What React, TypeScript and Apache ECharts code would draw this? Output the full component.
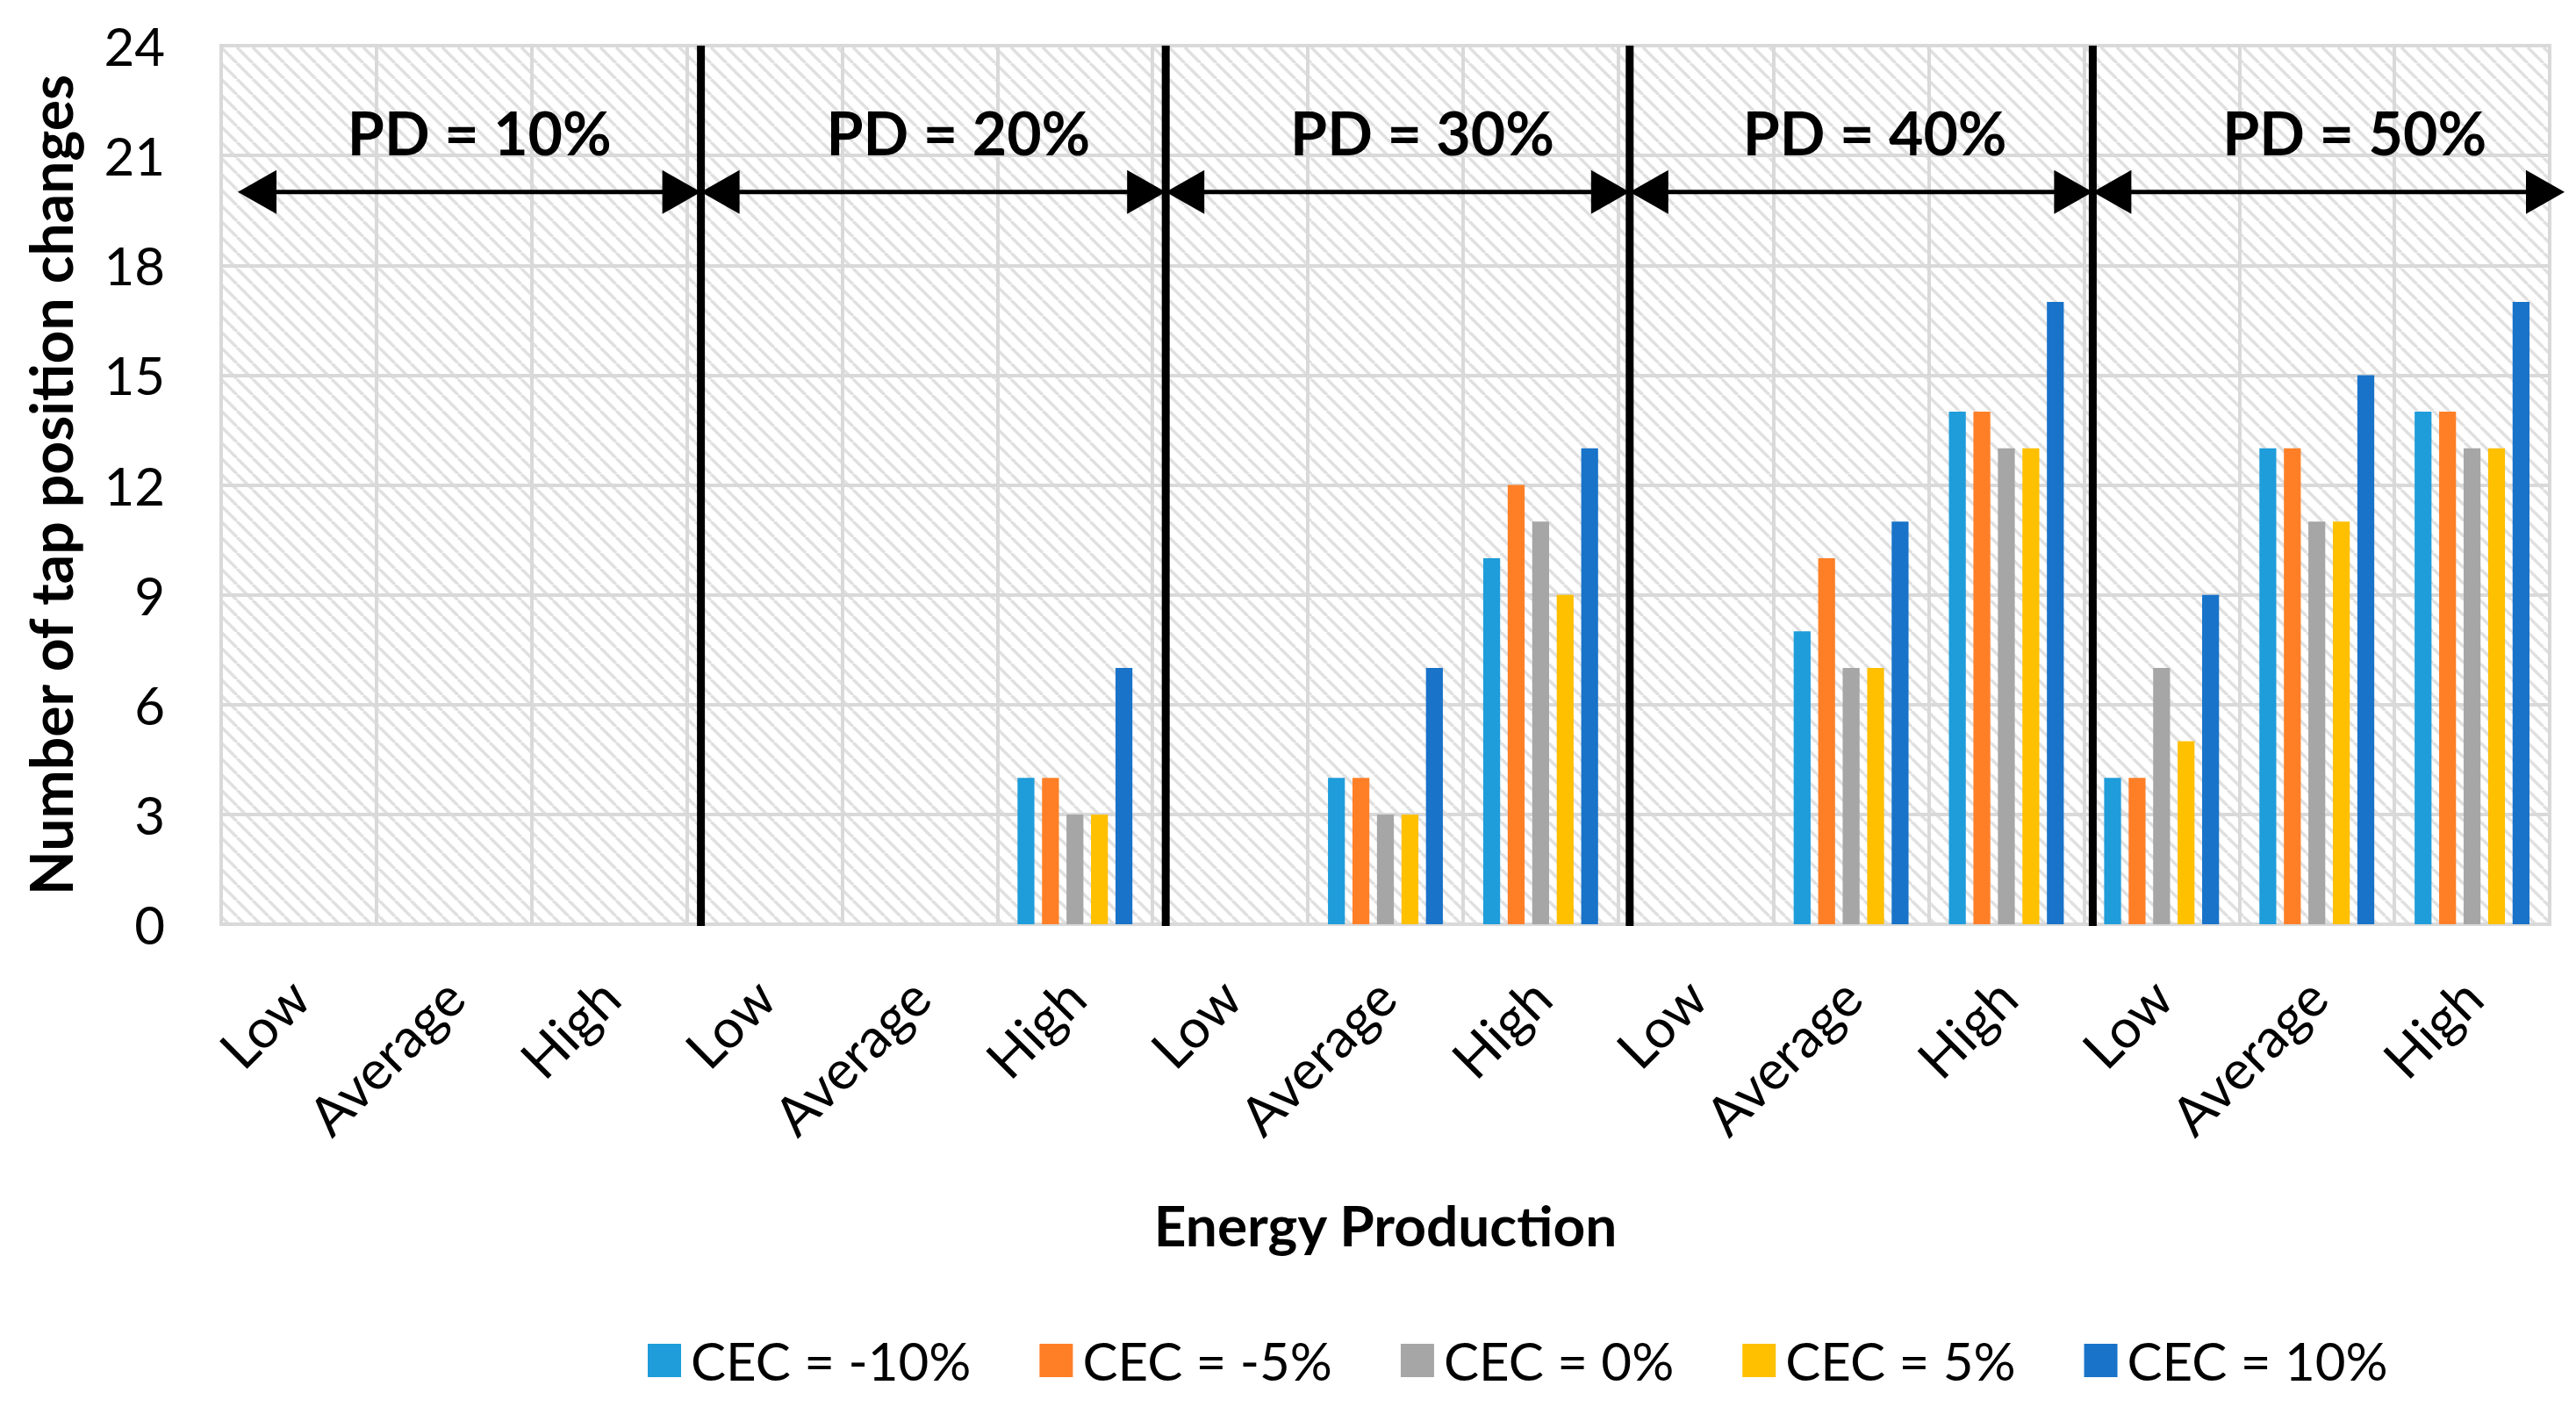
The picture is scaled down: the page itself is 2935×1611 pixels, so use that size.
import React, { useEffect, useRef } from "react";
import * as echarts from "echarts";

// ---- data ----
const groupLabels = ["PD = 10%", "PD = 20%", "PD = 30%", "PD = 40%", "PD = 50%"];
const levels = ["Low", "Average", "High"];
const categories = groupLabels.flatMap(() => levels);
const seriesNames = ["CEC = -10%", "CEC = -5%", "CEC = 0%", "CEC = 5%", "CEC = 10%"];
const seriesColors = ["#1E9DDA", "#FF7F27", "#A6A6A6", "#FFC000", "#1873C9"];
const cecMinus10 = [0, 0, 0, 0, 0, 4, 0, 4, 10, 0, 8, 14, 4, 13, 14];
const cecMinus5 = [0, 0, 0, 0, 0, 4, 0, 4, 12, 0, 10, 14, 4, 13, 14];
const cec0 = [0, 0, 0, 0, 0, 3, 0, 3, 11, 0, 7, 13, 7, 11, 13];
const cec5 = [0, 0, 0, 0, 0, 3, 0, 3, 9, 0, 7, 13, 5, 11, 13];
const cec10 = [0, 0, 0, 0, 0, 7, 0, 7, 13, 0, 11, 17, 9, 15, 17];
const seriesValues = [cecMinus10, cecMinus5, cec0, cec5, cec10];
const yMin = 0;
const yMax = 24;
const yInterval = 3;
const arrowLevel = 20;

// ---- annotation styling offsets (pixels) ----
const separatorOffsets = [16, 15, 13, 10];
const labelOffsets = [29, 44, 42, 27, 43];

const FONT = "Lato";

function makeHatch(): HTMLCanvasElement {
  const s = 18;
  const c = document.createElement("canvas");
  c.width = s;
  c.height = s;
  const ctx = c.getContext("2d")!;
  ctx.fillStyle = "#ffffff";
  ctx.fillRect(0, 0, s, s);
  ctx.strokeStyle = "#e0e0e0";
  ctx.lineWidth = 3.5;
  for (const off of [-s, 0, s]) {
    ctx.beginPath();
    ctx.moveTo(off, 0);
    ctx.lineTo(off + s, s);
    ctx.stroke();
  }
  return c;
}

export default function App() {
  const ref = useRef<HTMLDivElement>(null);

  useEffect(() => {
    if (!ref.current) return;
    const chart = echarts.init(ref.current, undefined, { renderer: "svg" });
    const hatch = makeHatch();

    const option: any = {
      animation: false,
      backgroundColor: "#ffffff",
      textStyle: { fontFamily: FONT },
      color: seriesColors,
      grid: {
        left: 252,
        right: 30,
        top: 52,
        bottom: 558,
        show: true,
        backgroundColor: { image: hatch, repeat: "repeat", imageWidth: 18, imageHeight: 18 },
        borderColor: "#d9d9d9",
        borderWidth: 4,
      },
      legend: {
        left: 738,
        top: 1520,
        padding: 0,
        itemWidth: 38,
        itemHeight: 38,
        itemGap: 78,
        icon: "rect",
        data: seriesNames,
        textStyle: {
          fontFamily: FONT,
          fontSize: 60,
          color: "#000",
          lineHeight: 60,
          padding: [0, 0, 0, 6],
        },
      },
      xAxis: {
        type: "category",
        data: categories,
        axisTick: { show: false },
        axisLine: { lineStyle: { color: "#d9d9d9", width: 4 } },
        axisLabel: {
          interval: 0,
          rotate: 45,
          margin: 72,
          fontSize: 62,
          fontFamily: FONT,
          color: "#000",
        },
        splitLine: { show: true, interval: 0, lineStyle: { color: "#d9d9d9", width: 4 } },
        name: "Energy Production",
        nameLocation: "middle",
        nameGap: 310,
        nameTextStyle: { fontSize: 64, fontWeight: "bold", color: "#000", fontFamily: FONT },
      },
      yAxis: {
        type: "value",
        min: yMin,
        max: yMax,
        interval: yInterval,
        axisLine: { show: false },
        axisTick: { show: false },
        axisLabel: { fontSize: 60, color: "#000", margin: 64, fontFamily: FONT },
        splitLine: { lineStyle: { color: "#d9d9d9", width: 4 } },
        name: "Number of tap position changes",
        nameLocation: "middle",
        nameGap: 162,
        nameTextStyle: { fontSize: 66, fontWeight: "bold", color: "#000", fontFamily: FONT },
      },
      series: seriesNames.map((name, i) => ({
        name,
        type: "bar",
        data: seriesValues[i],
        barGap: "45%",
        barCategoryGap: "26%",
        itemStyle: { color: seriesColors[i] },
      })),
    };
    chart.setOption(option);

    // annotations: separators, arrows, group labels
    const px = (i: number) => chart.convertToPixel({ xAxisIndex: 0 }, i) as number;
    const py = (v: number) => chart.convertToPixel({ yAxisIndex: 0 }, v) as number;
    const band = px(1) - px(0);
    const leftEdge = px(0) - band / 2;
    const rightEdge = px(categories.length - 1) + band / 2;
    const top = py(yMax);
    const bottom = py(yMin);
    const seps = [1, 2, 3, 4].map((g, k) => px(3 * g - 1) + band / 2 + separatorOffsets[k]);
    const ay = py(arrowLevel);
    const stops = [leftEdge + 19, ...seps, rightEdge + 17];
    const L = 44;
    const H = 50;
    const elements: any[] = [];
    seps.forEach((x) => {
      elements.push({
        type: "line",
        silent: true,
        z: 10,
        shape: { x1: x, y1: top, x2: x, y2: bottom + 2 },
        style: { stroke: "#000", lineWidth: 9 },
      });
    });
    for (let g = 0; g < groupLabels.length; g++) {
      const x0 = stops[g];
      const x1 = stops[g + 1];
      elements.push({
        type: "line",
        silent: true,
        z: 11,
        shape: { x1: x0 + L / 2, y1: ay, x2: x1 - L / 2, y2: ay },
        style: { stroke: "#000", lineWidth: 5 },
      });
      elements.push({
        type: "polygon",
        silent: true,
        z: 11,
        shape: { points: [[x0, ay], [x0 + L, ay - H / 2], [x0 + L, ay + H / 2]] },
        style: { fill: "#000" },
      });
      elements.push({
        type: "polygon",
        silent: true,
        z: 11,
        shape: { points: [[x1, ay], [x1 - L, ay - H / 2], [x1 - L, ay + H / 2]] },
        style: { fill: "#000" },
      });
      const gc = (px(3 * g) + px(3 * g + 2)) / 2 + labelOffsets[g];
      elements.push({
        type: "text",
        silent: true,
        z: 11,
        x: gc,
        y: 150,
        style: {
          text: groupLabels[g],
          fontFamily: FONT,
          fontSize: 68,
          fontWeight: "bold",
          fill: "#000",
          align: "center",
          verticalAlign: "middle",
        },
      });
    }
    chart.setOption({ graphic: { elements } });

    return () => chart.dispose();
  }, []);

  return (
    <div
      ref={ref}
      style={{ position: "fixed", left: 0, top: 0, width: "100vw", height: "100vh" }}
    />
  );
}
